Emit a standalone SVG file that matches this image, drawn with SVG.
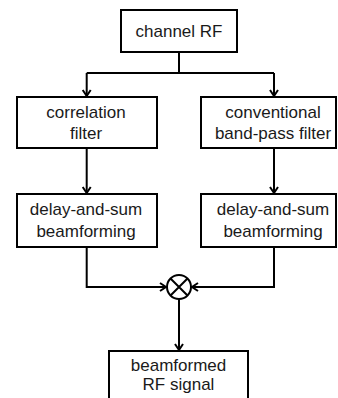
<svg xmlns="http://www.w3.org/2000/svg" width="338" height="398" viewBox="0 0 338 398">
<style>
.box{fill:#fff;stroke:#000;stroke-width:2}
.t{font-family:"Liberation Sans",Arial,sans-serif;font-size:17px;fill:#1a1a1a;text-anchor:middle}
.c{fill:none;stroke:#000;stroke-width:2}
</style>
<defs>
<marker id="ah" markerUnits="userSpaceOnUse" markerWidth="10" markerHeight="12" refX="7" refY="5" orient="auto" viewBox="0 0 10 10">
<path d="M1,1 L7,5 L1,9" fill="none" stroke="#000" stroke-width="2"/>
</marker>
</defs>
<rect width="338" height="398" fill="#fff"/>
<g id="connectors">
<path class="c" d="M179,52 V73"/>
<path class="c" d="M86.7,73 H274"/>
<path class="c" d="M86.7,73 V96" marker-end="url(#ah)"/>
<path class="c" d="M274,73 V96" marker-end="url(#ah)"/>
<path class="c" d="M86.7,148 V193" marker-end="url(#ah)"/>
<path class="c" d="M274,148 V193" marker-end="url(#ah)"/>
<path class="c" d="M86.7,247 V287 H166" marker-end="url(#ah)"/>
<path class="c" d="M274,247 V287 H192" marker-end="url(#ah)"/>
<path class="c" d="M179,299 V350" marker-end="url(#ah)"/>
</g>
<g id="channel-rf">
<rect class="box" x="121" y="10" width="116" height="42"/>
<text class="t" x="179" y="37">channel RF</text>
</g>
<g id="correlation-filter">
<rect class="box" x="17" y="97" width="140" height="51"/>
<text class="t" x="86" y="118">correlation</text>
<text class="t" x="86" y="139">filter</text>
</g>
<g id="bandpass-filter">
<rect class="box" x="201" y="97" width="135" height="51"/>
<text class="t" x="273" y="118">conventional</text>
<text class="t" x="273" y="139">band-pass filter</text>
</g>
<g id="das-left">
<rect class="box" x="17" y="194" width="140" height="53"/>
<text class="t" x="86" y="215">delay-and-sum</text>
<text class="t" x="86" y="237">beamforming</text>
</g>
<g id="das-right">
<rect class="box" x="201" y="194" width="135" height="53"/>
<text class="t" x="273" y="215">delay-and-sum</text>
<text class="t" x="273" y="237">beamforming</text>
</g>
<g id="multiplier">
<circle cx="179" cy="287" r="12" fill="#fff" stroke="#000" stroke-width="2"/>
<path d="M170.5,278.5 L187.5,295.5 M187.5,278.5 L170.5,295.5" stroke="#000" stroke-width="2"/>
</g>
<g id="beamformed-rf">
<rect class="box" x="109" y="351" width="139" height="60"/>
<text class="t" x="178.5" y="371">beamformed</text>
<text class="t" x="178.5" y="390">RF signal</text>
</g>
</svg>
